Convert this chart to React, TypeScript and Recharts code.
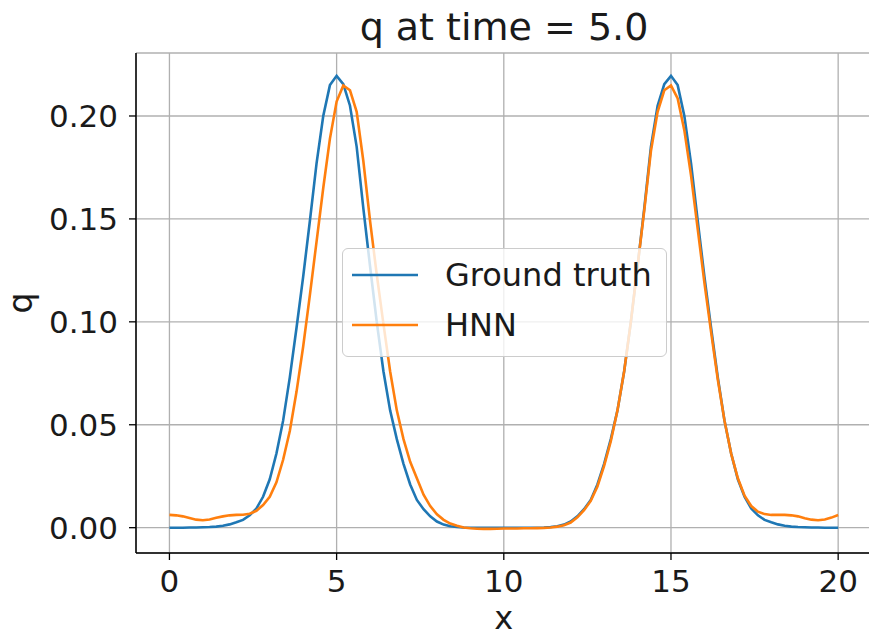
import React from 'react';
import { LineChart, Line, XAxis, YAxis, CartesianGrid, Legend } from 'recharts';

// x grid, step 0.2 over [0, 20]
const xs = [
	0, 0.2, 0.4, 0.6, 0.8, 1, 1.2, 1.4, 1.6, 1.8,
	2, 2.2, 2.4, 2.6, 2.8, 3, 3.2, 3.4, 3.6, 3.8,
	4, 4.2, 4.4, 4.6, 4.8, 5, 5.2, 5.4, 5.6, 5.8,
	6, 6.2, 6.4, 6.6, 6.8, 7, 7.2, 7.4, 7.6, 7.8,
	8, 8.2, 8.4, 8.6, 8.8, 9, 9.2, 9.4, 9.6, 9.8,
	10, 10.2, 10.4, 10.6, 10.8, 11, 11.2, 11.4, 11.6, 11.8,
	12, 12.2, 12.4, 12.6, 12.8, 13, 13.2, 13.4, 13.6, 13.8,
	14, 14.2, 14.4, 14.6, 14.8, 15, 15.2, 15.4, 15.6, 15.8,
	16, 16.2, 16.4, 16.6, 16.8, 17, 17.2, 17.4, 17.6, 17.8,
	18, 18.2, 18.4, 18.6, 18.8, 19, 19.2, 19.4, 19.6, 19.8,
	20,
];

const groundTruth = [
	0, 0, 0, 0.0001, 0.0001, 0.0002, 0.0003, 0.0005, 0.0009, 0.0016,
	0.0026, 0.0038, 0.006, 0.0093, 0.015, 0.0235, 0.036, 0.052, 0.073, 0.097,
	0.122, 0.149, 0.177, 0.2, 0.215, 0.2195, 0.2155, 0.205, 0.185, 0.155,
	0.127, 0.1, 0.076, 0.057, 0.043, 0.031, 0.021, 0.0135, 0.009, 0.0055,
	0.003, 0.0015, 0.0007, 0.0003, 0.0001, 0, 0, 0, 0, 0,
	0, 0, 0, 0, 0, 0, 0.0001, 0.0003, 0.0007, 0.0015,
	0.003, 0.0055, 0.009, 0.0135, 0.021, 0.031, 0.043, 0.057, 0.076, 0.1,
	0.127, 0.155, 0.185, 0.205, 0.2155, 0.2195, 0.215, 0.2, 0.177, 0.149,
	0.122, 0.097, 0.073, 0.052, 0.036, 0.0235, 0.015, 0.0093, 0.006, 0.0038,
	0.0026, 0.0016, 0.0009, 0.0005, 0.0003, 0.0002, 0.0001, 0.0001, 0, 0,
	0,
];

const hnn = [
	0.0062, 0.006, 0.0055, 0.0047, 0.0039, 0.0036, 0.004, 0.0048, 0.0055, 0.006,
	0.0062, 0.0063, 0.0068, 0.0082, 0.011, 0.015, 0.022, 0.033, 0.047, 0.066,
	0.088, 0.113, 0.139, 0.165, 0.189, 0.207, 0.2148, 0.2125, 0.202, 0.178,
	0.149, 0.123, 0.099, 0.076, 0.057, 0.043, 0.032, 0.024, 0.016, 0.0105,
	0.0065, 0.0038, 0.002, 0.0009, 0.0001, -0.0003, -0.0005, -0.0006, -0.0006, -0.0005,
	-0.0004, -0.0004, -0.0004, -0.0003, -0.0003, -0.0002, -0.0001, 0.0001, 0.0005, 0.0012,
	0.0025, 0.005, 0.0085, 0.013, 0.02, 0.03, 0.042, 0.057, 0.076, 0.1,
	0.127, 0.154, 0.183, 0.202, 0.2125, 0.2148, 0.2085, 0.193, 0.171, 0.145,
	0.119, 0.095, 0.072, 0.052, 0.036, 0.024, 0.0155, 0.0105, 0.0078, 0.0066,
	0.0062, 0.0062, 0.0062, 0.006, 0.0055, 0.0046, 0.0039, 0.0036, 0.004, 0.0049,
	0.0062,
];

const xTicks = [0, 5, 10, 15, 20];
const yTicks = [0, 0.05, 0.1, 0.15, 0.2];
const title = 'q at time = 5.0';

const data = xs.map((x, i) => ({ x, truth: groundTruth[i], hnn: hnn[i] }));

const FONT = '"DejaVu Sans", sans-serif';
const INK = '#1a1a1a';

function LegendBox({ payload }: any) {
	return (
		<div
			style={{
				width: 325,
				height: 109,
				boxSizing: 'border-box',
				border: '1px solid #cccccc',
				borderRadius: 6,
				background: 'rgba(255,255,255,0.8)',
				position: 'relative',
				fontFamily: FONT,
				fontSize: 32,
			}}
		>
			{(payload || []).map((p: any, i: number) => (
				<div
					key={p.value}
					style={{ position: 'absolute', left: 0, top: 1 + i * 50, height: 50, display: 'flex', alignItems: 'center' }}
				>
					<svg width={102} height={50}>
						<line x1={9} x2={75} y1={25} y2={25} stroke={p.color} strokeWidth={2.6} />
					</svg>
					<span style={{ lineHeight: 1, color: INK, whiteSpace: 'nowrap' }}>{p.value}</span>
				</div>
			))}
		</div>
	);
}

export default function App() {
	return (
		<div style={{ position: 'absolute', left: 0, top: 0, width: 869, height: 637, overflow: 'hidden', background: '#fff' }}>
			<div
				style={{
					position: 'absolute',
					left: 204,
					top: 8,
					width: 600,
					textAlign: 'center',
					fontFamily: FONT,
					fontSize: 38,
					lineHeight: '38px',
					color: INK,
					whiteSpace: 'nowrap',
				}}
			>
				{title}
			</div>
			<LineChart width={880} height={637} data={data} margin={{ top: 53, right: 8.4, left: 0, bottom: 0 }}>
				<CartesianGrid stroke="#b0b0b0" strokeWidth={1.3} />
				<XAxis
					dataKey="x"
					type="number"
					domain={[-1, 21]}
					ticks={xTicks}
					allowDataOverflow
					height={84}
					tickSize={7}
					tickMargin={10}
					axisLine={{ stroke: '#000', strokeWidth: 1.5 }}
					tickLine={{ stroke: '#000', strokeWidth: 1.3 }}
					tick={{ fill: INK, fontSize: 31, fontFamily: FONT }}
					label={{
						content: (p: any) => (
							<text x={p.viewBox.x + p.viewBox.width / 2} y={629} textAnchor="middle" fontSize={32} fontFamily={FONT} fill={INK}>
								x
							</text>
						),
					}}
				/>
				<XAxis
					xAxisId="top"
					orientation="top"
					dataKey="x"
					type="number"
					domain={[-1, 21]}
					ticks={xTicks}
					allowDataOverflow
					height={0}
					tick={false}
					tickLine={false}
					axisLine={{ stroke: '#000', strokeWidth: 1.5 }}
				/>
				<YAxis
					type="number"
					domain={[-0.0123, 0.2306]}
					ticks={yTicks}
					allowDataOverflow
					width={136}
					tickSize={7}
					tickMargin={11}
					axisLine={{ stroke: '#000', strokeWidth: 1.5 }}
					tickLine={{ stroke: '#000', strokeWidth: 1.3 }}
					tick={{ fill: INK, fontSize: 31, fontFamily: FONT }}
					tickFormatter={(v: number) => v.toFixed(2)}
					label={{
						content: (p: any) => {
							const cy = p.viewBox.y + p.viewBox.height / 2;
							return (
								<text x={32} y={cy} transform={`rotate(-90 32 ${cy})`} textAnchor="middle" fontSize={33} fontFamily={FONT} fill={INK}>
									q
								</text>
							);
						},
					}}
				/>
				<Line
					type="linear"
					dataKey="truth"
					name="Ground truth"
					stroke="#1f77b4"
					strokeWidth={2.6}
					dot={false}
					isAnimationActive={false}
				/>
				<Line
					type="linear"
					dataKey="hnn"
					name="HNN"
					stroke="#ff7f0e"
					strokeWidth={2.6}
					dot={false}
					isAnimationActive={false}
				/>
				<Legend
					layout="vertical"
					align="center"
					verticalAlign="middle"
					content={LegendBox}
					wrapperStyle={{ left: 342, top: 248, width: 325, height: 109 }}
				/>
			</LineChart>
		</div>
	);
}
